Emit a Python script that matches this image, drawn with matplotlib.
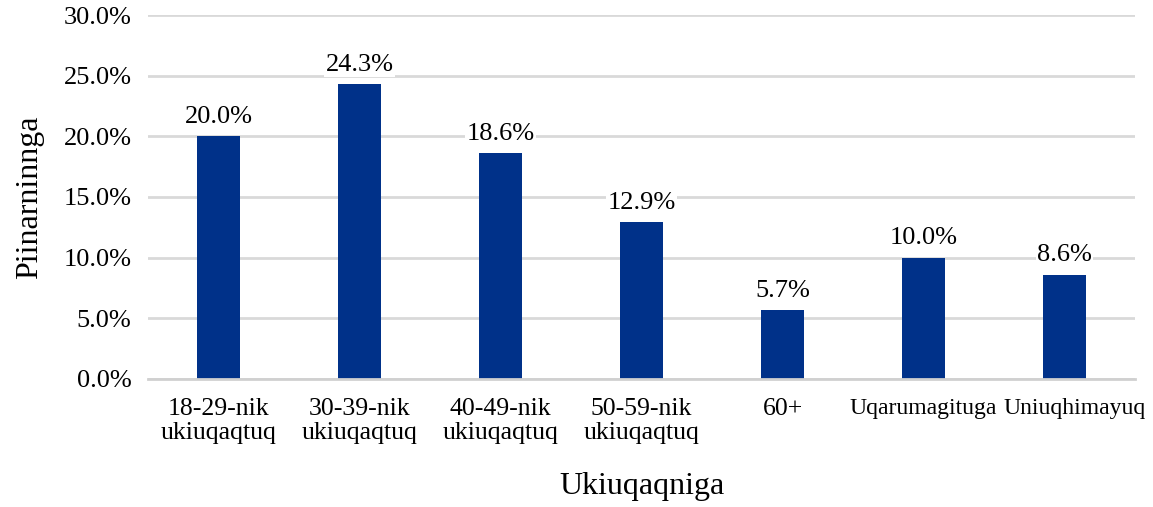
import matplotlib.pyplot as plt
from matplotlib.ticker import PercentFormatter
from matplotlib.transforms import ScaledTranslation

plt.rcParams['font.family'] = ['Liberation Serif', 'DejaVu Serif']

# Data
categories = ['18-29-nik\nukiuqaqtuq', '30-39-nik\nukiuqaqtuq', '40-49-nik\nukiuqaqtuq',
              '50-59-nik\nukiuqaqtuq', '60+', 'Uqarumagituga', 'Uniuqhimayuq']
values = [20.0, 24.3, 18.6, 12.9, 5.7, 10.0, 8.6]
y_ticks = [0, 5, 10, 15, 20, 25, 30]

bar_color = '#003189'
grid_color = '#d9d9d9'

fig = plt.figure(figsize=(11.53, 5.07), dpi=100)
ax = fig.add_axes([0.1284, 0.2525, 0.856, 0.7179])

x = list(range(len(categories)))
ax.bar(x, values, width=0.305, color=bar_color, zorder=3)

# value labels above the bars
for xi, v in zip(x, values):
    ax.annotate(f'{v:.1f}%', (xi, v), xytext=(0, 9.5), textcoords='offset points',
                ha='center', va='baseline', fontsize=19, zorder=4,
                bbox=dict(facecolor='white', edgecolor='none', pad=1))

ax.set_xlim(-0.5, len(categories) - 0.5)
ax.set_ylim(0, 30)
ax.set_yticks(y_ticks)
ax.yaxis.set_major_formatter(PercentFormatter(decimals=1))
ax.set_xticks(x)
ax.set_xticklabels(categories, fontsize=18.5, linespacing=1.1)
ax.tick_params(axis='y', labelsize=19, length=0, pad=12)
ax.tick_params(axis='x', length=0, pad=14)

# the two long labels are squeezed a bit, like in the original
labels = ax.get_xticklabels()
labels[5].set_fontsize(17)
labels[6].set_fontsize(17)
labels[6].set_transform(labels[6].get_transform() + ScaledTranslation(10 / 100, 0, fig.dpi_scale_trans))

ax.grid(axis='y', color=grid_color, linewidth=2, zorder=0)
for side in ['top', 'right', 'left']:
    ax.spines[side].set_visible(False)
ax.spines['bottom'].set_color('#d0d0d0')
ax.spines['bottom'].set_linewidth(2)
ax.spines['bottom'].set_zorder(3)

ax.set_xlabel('Ukiuqaqniga', fontsize=23, labelpad=20)
ax.set_ylabel('Piinarninnga', fontsize=23, labelpad=14)

fig.savefig('out.png', dpi=100)
